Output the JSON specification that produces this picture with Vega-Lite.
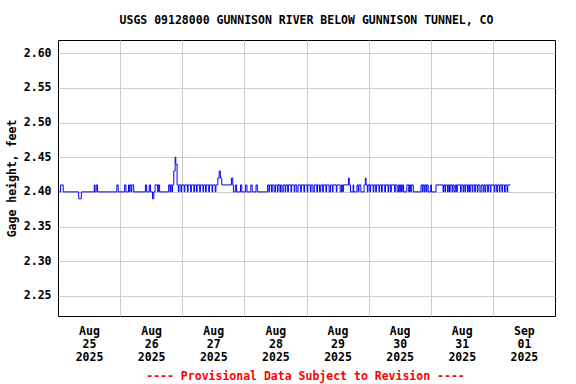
{
  "$schema": "https://vega.github.io/schema/vega-lite/v6.json",
  "autosize": "none",
  "width": 497,
  "height": 276,
  "padding": {"left": 58, "top": 40, "right": 21, "bottom": 68},
  "background": "white",
  "title": {"text": "USGS 09128000 GUNNISON RIVER BELOW GUNNISON TUNNEL, CO", "font": "DejaVu Sans Mono", "fontSize": 11.5, "fontWeight": "bold", "anchor": "middle", "offset": 14, "color": "black"},
  "config": {"view": {"stroke": "black", "strokeWidth": 1}, "axis": {"labelFont": "DejaVu Sans Mono", "titleFont": "DejaVu Sans Mono", "labelFontSize": 11.5, "titleFontSize": 11.5, "labelFontWeight": "bold", "titleFontWeight": "bold", "labelColor": "black", "titleColor": "black", "domain": false, "ticks": false, "gridColor": "#cccccc", "gridWidth": 1}},
  "data": {"values": [
    {"t":"2025-08-25T00:00","v":2.40},{"t":"2025-08-25T01:00","v":2.41},{"t":"2025-08-25T02:00","v":2.40},{"t":"2025-08-25T08:00","v":2.39},{"t":"2025-08-25T09:00","v":2.40},{"t":"2025-08-25T14:00","v":2.41},{"t":"2025-08-25T14:15","v":2.40},{"t":"2025-08-25T14:45","v":2.41},{"t":"2025-08-25T15:15","v":2.40},{"t":"2025-08-25T22:45","v":2.41},{"t":"2025-08-25T23:15","v":2.40},
    {"t":"2025-08-26T01:45","v":2.41},{"t":"2025-08-26T02:15","v":2.40},{"t":"2025-08-26T03:15","v":2.41},{"t":"2025-08-26T03:30","v":2.40},{"t":"2025-08-26T03:45","v":2.41},{"t":"2025-08-26T04:15","v":2.40},{"t":"2025-08-26T04:30","v":2.41},{"t":"2025-08-26T05:15","v":2.40},{"t":"2025-08-26T09:45","v":2.41},{"t":"2025-08-26T10:15","v":2.40},{"t":"2025-08-26T11:15","v":2.41},{"t":"2025-08-26T11:45","v":2.40},{"t":"2025-08-26T12:30","v":2.39},{"t":"2025-08-26T13:00","v":2.40},{"t":"2025-08-26T13:30","v":2.41},{"t":"2025-08-26T14:30","v":2.40},{"t":"2025-08-26T14:45","v":2.41},{"t":"2025-08-26T15:15","v":2.40},{"t":"2025-08-26T18:45","v":2.41},{"t":"2025-08-26T19:15","v":2.40},{"t":"2025-08-26T19:30","v":2.41},{"t":"2025-08-26T20:00","v":2.40},{"t":"2025-08-26T20:15","v":2.41},{"t":"2025-08-26T20:45","v":2.43},{"t":"2025-08-26T21:15","v":2.45},{"t":"2025-08-26T21:30","v":2.44},{"t":"2025-08-26T22:00","v":2.41},{"t":"2025-08-26T22:30","v":2.40},{"t":"2025-08-26T22:45","v":2.41},{"t":"2025-08-26T23:30","v":2.40},{"t":"2025-08-26T23:45","v":2.41},
    {"t":"2025-08-27T00:45","v":2.40},{"t":"2025-08-27T01:00","v":2.41},{"t":"2025-08-27T02:00","v":2.40},{"t":"2025-08-27T02:15","v":2.41},{"t":"2025-08-27T03:15","v":2.40},{"t":"2025-08-27T03:30","v":2.41},{"t":"2025-08-27T04:30","v":2.40},{"t":"2025-08-27T04:45","v":2.41},{"t":"2025-08-27T05:30","v":2.40},{"t":"2025-08-27T05:45","v":2.41},{"t":"2025-08-27T06:45","v":2.40},{"t":"2025-08-27T07:00","v":2.41},{"t":"2025-08-27T08:00","v":2.40},{"t":"2025-08-27T08:15","v":2.41},{"t":"2025-08-27T09:00","v":2.40},{"t":"2025-08-27T09:15","v":2.41},{"t":"2025-08-27T10:15","v":2.40},{"t":"2025-08-27T10:30","v":2.41},{"t":"2025-08-27T11:30","v":2.40},{"t":"2025-08-27T11:45","v":2.41},{"t":"2025-08-27T12:45","v":2.40},{"t":"2025-08-27T13:00","v":2.41},{"t":"2025-08-27T13:45","v":2.42},{"t":"2025-08-27T14:15","v":2.43},{"t":"2025-08-27T14:45","v":2.42},{"t":"2025-08-27T15:15","v":2.41},{"t":"2025-08-27T19:00","v":2.42},{"t":"2025-08-27T19:30","v":2.41},{"t":"2025-08-27T19:45","v":2.40},{"t":"2025-08-27T20:30","v":2.41},{"t":"2025-08-27T21:00","v":2.40},{"t":"2025-08-27T22:30","v":2.41},{"t":"2025-08-27T23:00","v":2.40},
    {"t":"2025-08-28T00:30","v":2.41},{"t":"2025-08-28T01:00","v":2.40},{"t":"2025-08-28T02:30","v":2.41},{"t":"2025-08-28T03:00","v":2.40},{"t":"2025-08-28T04:30","v":2.41},{"t":"2025-08-28T05:00","v":2.40},{"t":"2025-08-28T09:00","v":2.41},{"t":"2025-08-28T09:30","v":2.40},{"t":"2025-08-28T09:45","v":2.41},{"t":"2025-08-28T10:30","v":2.40},{"t":"2025-08-28T10:45","v":2.41},{"t":"2025-08-28T11:30","v":2.40},{"t":"2025-08-28T12:00","v":2.41},{"t":"2025-08-28T12:45","v":2.40},{"t":"2025-08-28T13:00","v":2.41},{"t":"2025-08-28T13:45","v":2.40},{"t":"2025-08-28T14:00","v":2.41},{"t":"2025-08-28T14:30","v":2.40},{"t":"2025-08-28T15:00","v":2.41},{"t":"2025-08-28T15:45","v":2.40},{"t":"2025-08-28T16:00","v":2.41},{"t":"2025-08-28T16:45","v":2.40},{"t":"2025-08-28T17:00","v":2.41},{"t":"2025-08-28T18:00","v":2.40},{"t":"2025-08-28T18:15","v":2.41},{"t":"2025-08-28T19:15","v":2.40},{"t":"2025-08-28T19:30","v":2.41},{"t":"2025-08-28T20:15","v":2.40},{"t":"2025-08-28T20:45","v":2.41},{"t":"2025-08-28T21:45","v":2.40},{"t":"2025-08-28T22:00","v":2.41},{"t":"2025-08-28T23:00","v":2.40},{"t":"2025-08-28T23:15","v":2.41},
    {"t":"2025-08-29T00:15","v":2.40},{"t":"2025-08-29T00:30","v":2.41},{"t":"2025-08-29T01:30","v":2.40},{"t":"2025-08-29T01:45","v":2.41},{"t":"2025-08-29T02:30","v":2.40},{"t":"2025-08-29T03:00","v":2.41},{"t":"2025-08-29T04:00","v":2.40},{"t":"2025-08-29T04:15","v":2.41},{"t":"2025-08-29T05:00","v":2.40},{"t":"2025-08-29T05:30","v":2.41},{"t":"2025-08-29T06:15","v":2.40},{"t":"2025-08-29T06:30","v":2.41},{"t":"2025-08-29T07:30","v":2.40},{"t":"2025-08-29T07:45","v":2.41},{"t":"2025-08-29T08:45","v":2.40},{"t":"2025-08-29T09:15","v":2.41},{"t":"2025-08-29T10:00","v":2.40},{"t":"2025-08-29T10:15","v":2.41},{"t":"2025-08-29T11:30","v":2.40},{"t":"2025-08-29T11:45","v":2.41},{"t":"2025-08-29T13:00","v":2.40},{"t":"2025-08-29T13:30","v":2.41},{"t":"2025-08-29T14:00","v":2.40},{"t":"2025-08-29T14:15","v":2.41},{"t":"2025-08-29T16:15","v":2.42},{"t":"2025-08-29T16:30","v":2.41},{"t":"2025-08-29T17:00","v":2.40},{"t":"2025-08-29T18:00","v":2.41},{"t":"2025-08-29T18:15","v":2.40},{"t":"2025-08-29T19:30","v":2.41},{"t":"2025-08-29T20:00","v":2.40},{"t":"2025-08-29T20:15","v":2.41},{"t":"2025-08-29T21:00","v":2.40},{"t":"2025-08-29T22:15","v":2.41},{"t":"2025-08-29T22:45","v":2.42},{"t":"2025-08-29T23:00","v":2.41},{"t":"2025-08-29T23:30","v":2.40},{"t":"2025-08-29T23:45","v":2.41},
    {"t":"2025-08-30T00:30","v":2.40},{"t":"2025-08-30T00:45","v":2.41},{"t":"2025-08-30T01:45","v":2.40},{"t":"2025-08-30T02:00","v":2.41},{"t":"2025-08-30T02:45","v":2.40},{"t":"2025-08-30T03:00","v":2.41},{"t":"2025-08-30T04:00","v":2.40},{"t":"2025-08-30T04:15","v":2.41},{"t":"2025-08-30T05:00","v":2.40},{"t":"2025-08-30T05:15","v":2.41},{"t":"2025-08-30T06:15","v":2.40},{"t":"2025-08-30T06:30","v":2.41},{"t":"2025-08-30T07:30","v":2.40},{"t":"2025-08-30T07:45","v":2.41},{"t":"2025-08-30T08:30","v":2.40},{"t":"2025-08-30T08:45","v":2.41},{"t":"2025-08-30T10:00","v":2.40},{"t":"2025-08-30T10:15","v":2.41},{"t":"2025-08-30T11:00","v":2.40},{"t":"2025-08-30T11:30","v":2.41},{"t":"2025-08-30T12:00","v":2.40},{"t":"2025-08-30T12:15","v":2.41},{"t":"2025-08-30T12:45","v":2.40},{"t":"2025-08-30T13:00","v":2.41},{"t":"2025-08-30T13:30","v":2.40},{"t":"2025-08-30T14:45","v":2.41},{"t":"2025-08-30T15:30","v":2.40},{"t":"2025-08-30T15:45","v":2.41},{"t":"2025-08-30T16:15","v":2.40},{"t":"2025-08-30T16:30","v":2.41},{"t":"2025-08-30T17:15","v":2.40},{"t":"2025-08-30T20:15","v":2.41},{"t":"2025-08-30T20:45","v":2.40},{"t":"2025-08-30T21:00","v":2.41},{"t":"2025-08-30T21:30","v":2.40},{"t":"2025-08-30T21:45","v":2.41},{"t":"2025-08-30T22:15","v":2.40},{"t":"2025-08-30T22:30","v":2.41},{"t":"2025-08-30T23:00","v":2.40},
    {"t":"2025-08-31T00:00","v":2.41},{"t":"2025-08-31T00:15","v":2.40},{"t":"2025-08-31T02:00","v":2.41},{"t":"2025-08-31T04:45","v":2.40},{"t":"2025-08-31T05:00","v":2.41},{"t":"2025-08-31T05:30","v":2.40},{"t":"2025-08-31T05:45","v":2.41},{"t":"2025-08-31T06:30","v":2.40},{"t":"2025-08-31T06:45","v":2.41},{"t":"2025-08-31T07:15","v":2.40},{"t":"2025-08-31T07:30","v":2.41},{"t":"2025-08-31T08:15","v":2.40},{"t":"2025-08-31T08:30","v":2.41},{"t":"2025-08-31T09:00","v":2.40},{"t":"2025-08-31T09:30","v":2.41},{"t":"2025-08-31T10:00","v":2.40},{"t":"2025-08-31T10:15","v":2.41},{"t":"2025-08-31T11:30","v":2.40},{"t":"2025-08-31T11:45","v":2.41},{"t":"2025-08-31T12:30","v":2.40},{"t":"2025-08-31T12:45","v":2.41},{"t":"2025-08-31T13:15","v":2.40},{"t":"2025-08-31T13:30","v":2.41},{"t":"2025-08-31T14:15","v":2.40},{"t":"2025-08-31T14:30","v":2.41},{"t":"2025-08-31T15:00","v":2.40},{"t":"2025-08-31T15:15","v":2.41},{"t":"2025-08-31T16:00","v":2.40},{"t":"2025-08-31T16:15","v":2.41},{"t":"2025-08-31T17:00","v":2.40},{"t":"2025-08-31T17:15","v":2.41},{"t":"2025-08-31T18:00","v":2.40},{"t":"2025-08-31T18:15","v":2.41},{"t":"2025-08-31T19:00","v":2.40},{"t":"2025-08-31T19:30","v":2.41},{"t":"2025-08-31T20:15","v":2.40},{"t":"2025-08-31T20:30","v":2.41},{"t":"2025-08-31T21:00","v":2.40},{"t":"2025-08-31T21:15","v":2.41},{"t":"2025-08-31T22:00","v":2.40},{"t":"2025-08-31T22:15","v":2.41},{"t":"2025-08-31T23:00","v":2.40},{"t":"2025-08-31T23:15","v":2.41},
    {"t":"2025-09-01T00:30","v":2.40},{"t":"2025-09-01T00:45","v":2.41},{"t":"2025-09-01T01:30","v":2.40},{"t":"2025-09-01T01:45","v":2.41},{"t":"2025-09-01T02:30","v":2.40},{"t":"2025-09-01T02:45","v":2.41},{"t":"2025-09-01T03:30","v":2.40},{"t":"2025-09-01T03:45","v":2.41},{"t":"2025-09-01T04:30","v":2.40},{"t":"2025-09-01T04:45","v":2.41},{"t":"2025-09-01T05:30","v":2.40},{"t":"2025-09-01T05:45","v":2.41},{"t":"2025-09-01T06:45","v":2.41}
  ]},
  "mark": {"type": "line", "interpolate": "step-after", "color": "#0000ff", "strokeWidth": 1, "clip": true},
  "encoding": {
    "x": {"field": "t", "type": "temporal",
      "scale": {"domain": [{"year": 2025, "month": 8, "date": 25}, {"year": 2025, "month": 9, "date": 2}]},
      "axis": {
        "values": [{"year": 2025, "month": 8, "date": 25}, {"year": 2025, "month": 8, "date": 26}, {"year": 2025, "month": 8, "date": 27}, {"year": 2025, "month": 8, "date": 28}, {"year": 2025, "month": 8, "date": 29}, {"year": 2025, "month": 8, "date": 30}, {"year": 2025, "month": 8, "date": 31}, {"year": 2025, "month": 9, "date": 1}],
        "labelExpr": "[timeFormat(datum.value, '%b'), timeFormat(datum.value, '%d'), timeFormat(datum.value, '%Y')]",
        "labelOffset": 31, "labelAlign": "center", "labelBaseline": "top", "labelLineHeight": 13, "labelPadding": 9,
        "labelOverlap": false, "labelFlush": false,
        "gridColor": {"condition": {"test": "date(datum.value) == 25 && month(datum.value) == 7", "value": "transparent"}, "value": "#cccccc"},
        "title": "---- Provisional Data Subject to Revision ----", "titleColor": "#ff0000", "titlePadding": 8, "titleX": 247, "titleAnchor": "middle"
      }
    },
    "y": {"field": "v", "type": "quantitative",
      "scale": {"domain": [2.221, 2.619], "nice": false, "zero": false},
      "axis": {"values": [2.25, 2.30, 2.35, 2.40, 2.45, 2.50, 2.55, 2.60], "format": ".2f", "labelPadding": 7, "title": "Gage height, feet", "titlePadding": 6}
    }
  }
}
